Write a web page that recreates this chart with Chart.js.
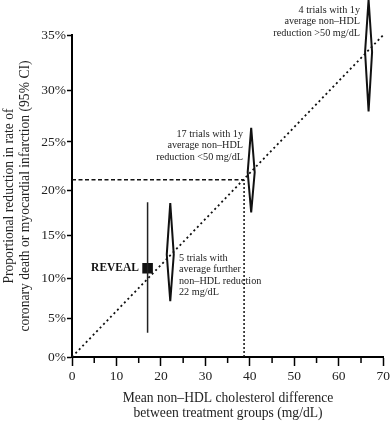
<!DOCTYPE html>
<html>
<head>
    <title>Non-HDL cholesterol difference vs proportional reduction</title>
    <script src="https://cdnjs.cloudflare.com/ajax/libs/Chart.js/4.4.1/chart.umd.min.js"></script>
    <style>
        body { margin: 0; background: white; }
        #wrap { width: 392px; height: 421px; }
    </style>
</head>
<body>
    <div id="wrap"><canvas id="chart" width="392" height="421"></canvas></div>

    <script>
        // Axis ticks
        const xTickValues = [0, 5, 10, 15, 20, 25, 30, 35, 40, 45, 50, 55, 60, 65, 70];
        const yTickPcts = [0, 5, 10, 15, 20, 25, 30, 35];

        // Trial groups (diamonds): x = mean non-HDL difference, % reduction with 95% CI
        const groupX = [22.1, 40.3, 66.7];
        const groupEst = [12.8, 21.9, 33.5];
        const groupLo = [7.2, 17.6, 28.0];
        const groupHi = [18.6, 26.4, 38.0];

        // REVEAL
        const revealX = 17;
        const revealEst = 11.2;
        const revealLo = 3.2;
        const revealHi = 18.7;

        // Regression line and reference read-off
        const lineX = [0, 70];
        const linePct = [0, 35];
        const refX = 38.7;
        const refPct = 21.1;

        // y axis is on a log risk-ratio scale
        const T = p => -Math.log(1 - p / 100);

        const serif = '"Liberation Serif", "DejaVu Serif", serif';

        const overlay = {
            id: 'overlay',
            afterDatasetsDraw(chart) {
                const { ctx, scales: { x, y } } = chart;
                ctx.save();

                // minor x ticks
                ctx.strokeStyle = '#000';
                ctx.lineWidth = 1.5;
                xTickValues.filter(v => v % 10 !== 0).forEach(v => {
                    const px = x.getPixelForValue(v);
                    ctx.beginPath();
                    ctx.moveTo(px, y.bottom);
                    ctx.lineTo(px, y.bottom + 6);
                    ctx.stroke();
                });

                // diamonds
                ctx.lineWidth = 2;
                ctx.strokeStyle = '#111';
                groupX.forEach((gx, i) => {
                    const px = x.getPixelForValue(gx);
                    const top = y.getPixelForValue(T(groupHi[i]));
                    const mid = y.getPixelForValue(T(groupEst[i]));
                    const bot = y.getPixelForValue(T(groupLo[i]));
                    ctx.beginPath();
                    ctx.moveTo(px, top);
                    ctx.lineTo(px + 3.5, mid);
                    ctx.lineTo(px, bot);
                    ctx.lineTo(px - 3.5, mid);
                    ctx.closePath();
                    ctx.stroke();
                });

                // annotations
                ctx.fillStyle = '#222';
                ctx.textBaseline = 'middle';
                ctx.font = '10.2px ' + serif;
                ctx.textAlign = 'right';
                ['4 trials with 1y', 'average non\u2013HDL', 'reduction >50 mg/dL']
                    .forEach((t, i) => ctx.fillText(t, 360, 10 + i * 11.5));
                ['17 trials with 1y', 'average non\u2013HDL', 'reduction <50 mg/dL']
                    .forEach((t, i) => ctx.fillText(t, 243, 134 + i * 11.5));
                ctx.textAlign = 'left';
                ['5 trials with', 'average further', 'non\u2013HDL reduction', '22 mg/dL']
                    .forEach((t, i) => ctx.fillText(t, 179, 258 + i * 11.6));

                ctx.font = 'bold 11.5px ' + serif;
                ctx.textAlign = 'right';
                ctx.fillStyle = '#111';
                ctx.fillText('REVEAL', 139, y.getPixelForValue(T(revealEst)));

                // axis titles
                ctx.fillStyle = '#222';
                ctx.font = '13.6px ' + serif;
                ctx.textAlign = 'center';
                ctx.fillText('Mean non\u2013HDL cholesterol difference', 228, 398);
                ctx.fillText('between treatment groups (mg/dL)', 228, 413);
                ctx.translate(0, (y.top + y.bottom) / 2);
                ctx.rotate(-Math.PI / 2);
                ctx.fillText('Proportional reduction in rate of', 0, 9);
                ctx.fillText('coronary death or myocardial infarction (95% CI)', 0, 25);

                ctx.restore();
            }
        };

        new Chart(document.getElementById('chart'), {
            data: {
                datasets: [
                    {
                        type: 'line',
                        data: lineX.map((v, i) => ({ x: v, y: T(linePct[i]) })),
                        borderColor: '#111',
                        borderWidth: 1.8,
                        borderDash: [2, 3],
                        pointRadius: 0,
                        clip: false
                    },
                    {
                        type: 'line',
                        data: [{ x: 0, y: T(refPct) }, { x: refX, y: T(refPct) }],
                        borderColor: '#111',
                        borderWidth: 1.5,
                        borderDash: [4, 2.5],
                        pointRadius: 0
                    },
                    {
                        type: 'line',
                        data: [{ x: refX, y: 0 }, { x: refX, y: T(refPct) }],
                        borderColor: '#111',
                        borderWidth: 1.5,
                        borderDash: [2, 2],
                        pointRadius: 0
                    },
                    {
                        type: 'line',
                        data: [{ x: revealX, y: T(revealLo) }, { x: revealX, y: T(revealHi) }],
                        borderColor: '#222',
                        borderWidth: 1.5,
                        pointRadius: 0
                    },
                    {
                        type: 'scatter',
                        data: [{ x: revealX, y: T(revealEst) }],
                        pointStyle: 'rect',
                        pointRadius: 7.5,
                        backgroundColor: '#111',
                        borderWidth: 0
                    }
                ]
            },
            options: {
                responsive: false,
                animation: false,
                layout: { padding: { left: 0, top: 35, right: 7, bottom: 0 } },
                plugins: {
                    legend: { display: false },
                    tooltip: { enabled: false }
                },
                scales: {
                    x: {
                        type: 'linear',
                        min: 0,
                        max: 70,
                        afterBuildTicks: s => { s.ticks = xTickValues.map(v => ({ value: v })); },
                        afterFit: s => { s.height = 64; },
                        ticks: {
                            padding: 2,
                            color: '#222',
                            font: { family: serif, size: 13.5 },
                            callback: v => (v % 10 === 0 ? String(v) : '')
                        },
                        grid: {
                            drawOnChartArea: false,
                            tickLength: 9,
                            tickWidth: 1.5,
                            tickColor: c => (c.tick && c.tick.value % 10 === 0 ? '#000' : 'rgba(0,0,0,0)')
                        },
                        border: { color: '#000', width: 2 }
                    },
                    y: {
                        type: 'linear',
                        min: 0,
                        max: T(35),
                        afterBuildTicks: s => { s.ticks = yTickPcts.map(p => ({ value: T(p) })); },
                        afterFit: s => { s.width = 72; },
                        ticks: {
                            padding: 1,
                            color: '#222',
                            font: { family: serif, size: 13.5 },
                            callback: (v, i) => yTickPcts[i] + '%'
                        },
                        grid: {
                            drawOnChartArea: false,
                            tickLength: 5,
                            tickWidth: 1.5,
                            tickColor: '#000'
                        },
                        border: { color: '#000', width: 2 }
                    }
                }
            },
            plugins: [overlay]
        });
    </script>
</body>
</html>
